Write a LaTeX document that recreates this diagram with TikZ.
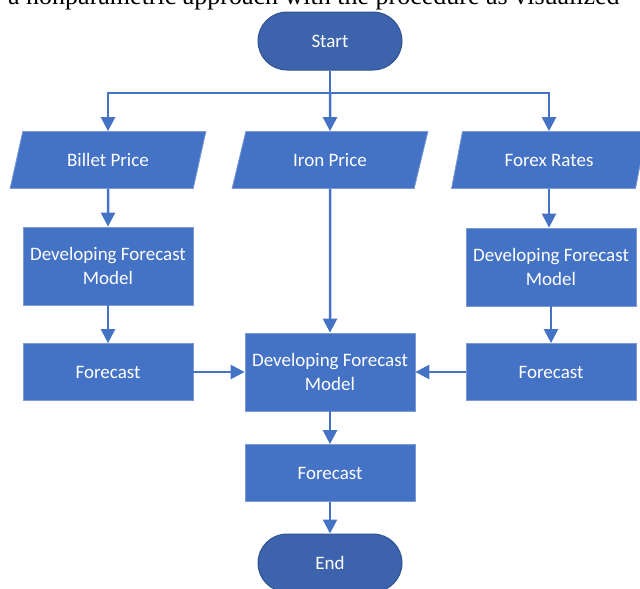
\documentclass[tikz,border=0pt]{standalone}
\usepackage{fontspec}
\setmainfont{Carlito}
\newfontfamily\serifx{Liberation Serif}
\usetikzlibrary{arrows.meta,shapes.geometric,shapes.misc}
\definecolor{boxblue}{HTML}{4472C4}
\definecolor{termblue}{HTML}{3D63AC}
\definecolor{termedge}{HTML}{2F528F}
\definecolor{boxedge}{HTML}{7C9BD6}
\begin{document}
\begin{tikzpicture}[x=1pt,y=-1pt,
  lbl/.style={text=white, align=center, font=\fontsize{19}{24}\selectfont, inner sep=0pt},
  proc/.style={lbl, rectangle, fill=boxblue, draw=boxedge, line width=0.8pt, minimum width=170pt, minimum height=57pt},
  procbig/.style={proc, minimum height=78pt},
  term/.style={lbl, rounded rectangle, fill=termblue, draw=termedge, line width=1pt, minimum width=144pt, minimum height=58pt},
  io/.style={lbl, trapezium, trapezium left angle=65.5, trapezium right angle=114.5, trapezium stretches=true, minimum width=197pt, minimum height=57pt, fill=boxblue, draw=boxedge, line width=0.8pt},
  conn/.style={draw=boxblue, line width=2.5pt},
  arr/.style={conn, -{Triangle[width=14pt,length=14pt]}}
]
\useasboundingbox (0,0) rectangle (640,589);
\begin{scope}
\clip (0,0) rectangle (640,589);
\node[anchor=base west, inner sep=0pt, font=\serifx\fontsize{26}{26}\selectfont] (intro) at (8,5) {a nonparametric approach with the procedure as visualized};
\end{scope}

\node[term] (start) at (330,41) {Start};
\node[io] (billet) at (108,160) {Billet Price};
\node[io] (iron) at (330,160) {Iron Price};
\node[io] (forex) at (549,160) {Forex Rates};
\node[procbig] (dfmL) at (108,266) {Developing Forecast\\Model};
\node[procbig] (dfmR) at (551,267) {Developing Forecast\\Model};
\node[proc] (fcL) at (108,372) {Forecast};
\node[proc] (fcR) at (551,372) {Forecast};
\node[procbig] (dfmC) at (330,372) {Developing Forecast\\Model};
\node[proc] (fcC) at (330,473) {Forecast};
\node[term] (end) at (330,563) {End};

\coordinate (jn) at (330,93);
\draw[conn] (start.south) -- (jn);
\draw[arr] (jn) -| (billet.north);
\draw[arr] (jn) -| (forex.north);
\draw[arr] (jn) -- (iron.north);
\draw[arr] (billet.south) -- (dfmL.north);
\draw[arr] (forex.south) -- (forex.south |- dfmR.north);
\draw[arr] (dfmL.south) -- (fcL.north);
\draw[arr] (dfmR.south) -- (fcR.north);
\draw[arr] (iron.south) -- (dfmC.north);
\draw[arr] (fcL.east) -- (dfmC.west);
\draw[arr] (fcR.west) -- (dfmC.east);
\draw[arr] (dfmC.south) -- (fcC.north);
\draw[arr] (fcC.south) -- (end.north);
\end{tikzpicture}
\end{document}
